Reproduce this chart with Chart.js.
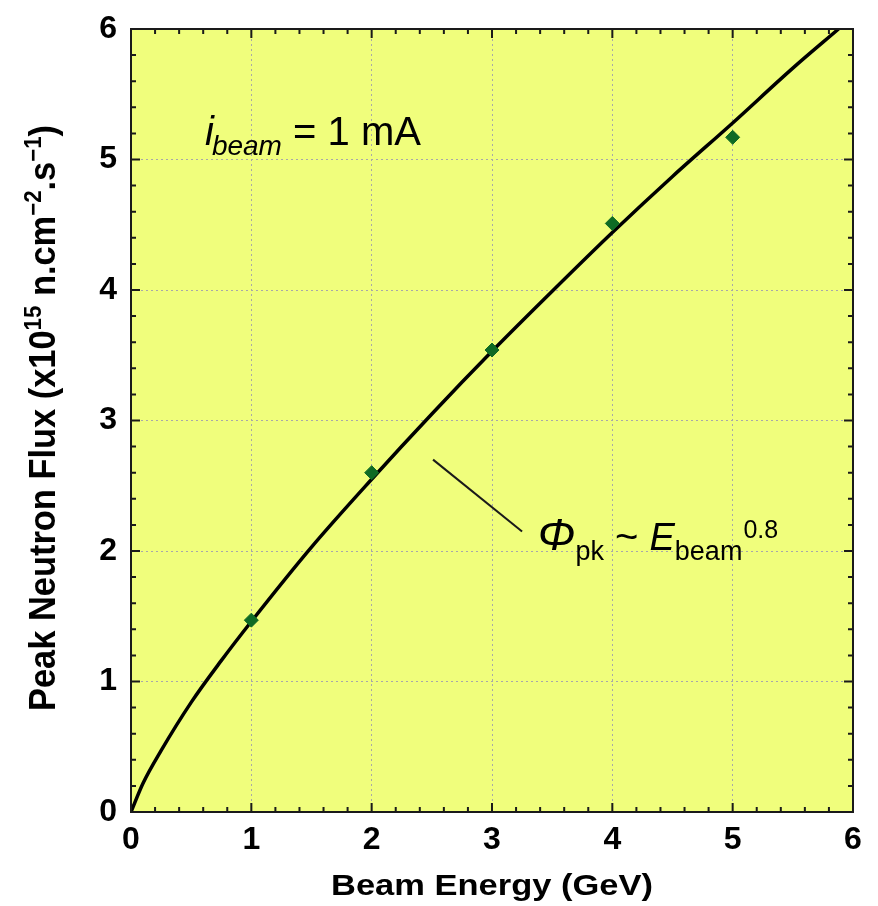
<!DOCTYPE html>
<html>
<head>
<meta charset="utf-8">
<script src="https://cdn.jsdelivr.net/npm/chart.js@4.4.1/dist/chart.umd.min.js"></script>
<style>
  html, body { margin: 0; padding: 0; background: #fff; }
  #wrap { width: 878px; height: 906px; }
</style>
</head>
<body>
<div id="wrap"><canvas id="fluxChart" width="878" height="906"></canvas></div>
<script>
// measured points (GeV, x10^15 n/cm2/s)
const beamEnergy = [1, 2, 3, 4, 5];
const peakFlux = [1.47, 2.60, 3.54, 4.51, 5.17];

// fitted curve
const fitEnergy = [0, 0.1, 0.25, 0.5, 0.75, 1, 1.5, 2, 2.5, 3, 3.5, 4, 4.5, 5, 5.5, 5.88];
const fitFlux = [0, 0.22, 0.47, 0.84, 1.16, 1.46, 2.03, 2.55, 3.05, 3.53, 3.99, 4.44, 4.87, 5.28, 5.70, 6.0];

const xTickValues = [0, 1, 2, 3, 4, 5, 6];
const yTickValues = [0, 1, 2, 3, 4, 5, 6];

const FONT = "'Liberation Sans', Arial, Helvetica, sans-serif";

const pointData = beamEnergy.map((e, i) => ({ x: e, y: peakFlux[i] }));
const fitData = fitEnergy.map((e, i) => ({ x: e, y: fitFlux[i] }));

// measure a list of text runs, return the factor that fits them to targetWidth
function fitRuns(ctx, runs, targetWidth) {
    let total = 0;
    runs.forEach(r => { ctx.font = r.font; r.w = ctx.measureText(r.text).width; total += r.w; });
    return targetWidth / total;
}

const framePlugin = {
    id: 'framePlugin',
    beforeDraw(chart) {
        const { ctx, chartArea: a } = chart;
        ctx.save();
        ctx.fillStyle = '#f0fe7c';
        ctx.fillRect(a.left, a.top, a.right - a.left, a.bottom - a.top);
        ctx.restore();
    },
    afterDraw(chart) {
        const { ctx, chartArea: a } = chart;
        const xs = chart.scales.x, ys = chart.scales.y;
        ctx.save();
        // frame
        ctx.strokeStyle = '#1a1a1a';
        ctx.lineWidth = 2;
        ctx.strokeRect(a.left, a.top, a.right - a.left, a.bottom - a.top);
        // inward ticks, minor every 0.2
        ctx.beginPath();
        for (let i = 0; i <= 30; i++) {
            const v = i / 5;
            const len = (i % 5 === 0) ? 9 : 5;
            const px = xs.getPixelForValue(v);
            const py = ys.getPixelForValue(v);
            ctx.moveTo(px, a.bottom); ctx.lineTo(px, a.bottom - len);
            ctx.moveTo(px, a.top); ctx.lineTo(px, a.top + len);
            ctx.moveTo(a.left, py); ctx.lineTo(a.left + len, py);
            ctx.moveTo(a.right, py); ctx.lineTo(a.right - len, py);
        }
        ctx.stroke();

        ctx.fillStyle = '#000';
        ctx.textBaseline = 'alphabetic';
        ctx.textAlign = 'left';

        // x axis title (lettering in the original is a bit wide)
        const xRuns = [{ text: 'Beam Energy (GeV)', font: 'bold 30px ' + FONT }];
        const kx = fitRuns(ctx, xRuns, 322);
        ctx.save();
        ctx.translate(492 - 322 / 2, 895);
        ctx.scale(kx, 1);
        ctx.font = xRuns[0].font;
        ctx.fillText(xRuns[0].text, 0, 0);
        ctx.restore();

        // y axis title with superscripts
        const big = 'bold 31px ' + FONT, small = 'bold 20px ' + FONT;
        const yRuns = [
            { text: 'Peak Neutron Flux (x10', font: big, dy: 0 },
            { text: '15', font: small, dy: -12 },
            { text: ' n.cm', font: big, dy: 0 },
            { text: '\u22122', font: small, dy: -12 },
            { text: '.s', font: big, dy: 0 },
            { text: '\u22121', font: small, dy: -12 },
            { text: ')', font: big, dy: 0 }
        ];
        const ky = fitRuns(ctx, yRuns, 586);
        ctx.save();
        ctx.translate(55, 418 + 586 / 2);
        ctx.rotate(-Math.PI / 2);
        ctx.scale(ky, 1.2);
        let cx = 0;
        yRuns.forEach(r => {
            ctx.font = r.font;
            ctx.fillText(r.text, cx, r.dy);
            cx += r.w;
        });
        ctx.restore();

        // i_beam = 1 mA
        let ax = xs.getPixelForValue(0.615), ay = ys.getPixelForValue(5.11);
        ctx.font = 'italic 40px ' + FONT;
        ctx.fillText('i', ax, ay);
        let w = ctx.measureText('i').width;
        ctx.font = 'italic 28px ' + FONT;
        ctx.fillText('beam', ax + w - 2, ay + 10);
        w += ctx.measureText('beam').width - 2;
        ctx.font = '40px ' + FONT;
        ctx.fillText(' = 1 mA', ax + w, ay);

        // leader line and fit label
        ctx.lineWidth = 2;
        ctx.beginPath();
        ctx.moveTo(xs.getPixelForValue(2.51), ys.getPixelForValue(2.70));
        ctx.lineTo(xs.getPixelForValue(3.25), ys.getPixelForValue(2.15));
        ctx.stroke();

        ax = xs.getPixelForValue(3.38); ay = ys.getPixelForValue(2.01);
        ctx.font = 'italic 45px ' + FONT;
        ctx.fillText('\u03A6', ax, ay);
        w = ctx.measureText('\u03A6').width;
        ctx.font = '27px ' + FONT;
        ctx.fillText('pk', ax + w, ay + 10);
        w += ctx.measureText('pk').width;
        ctx.font = '40px ' + FONT;
        ctx.fillText(' ~ ', ax + w, ay);
        w += ctx.measureText(' ~ ').width;
        ctx.font = 'italic 38px ' + FONT;
        ctx.fillText('E', ax + w, ay);
        w += ctx.measureText('E').width;
        ctx.font = '27px ' + FONT;
        ctx.fillText('beam', ax + w, ay + 10);
        w += ctx.measureText('beam').width;
        ctx.font = '25px ' + FONT;
        ctx.fillText('0.8', ax + w + 1, ay - 12);
        ctx.restore();
    }
};

const ctx = document.getElementById('fluxChart').getContext('2d');
const fluxChart = new Chart(ctx, {
    type: 'scatter',
    data: {
        datasets: [
            {
                label: 'Measured',
                data: pointData,
                pointStyle: 'rectRot',
                pointRadius: 7,
                backgroundColor: '#0e6b24',
                borderColor: '#0e6b24',
                borderWidth: 1
            },
            {
                label: 'Fit',
                data: fitData,
                showLine: true,
                pointRadius: 0,
                borderColor: '#000',
                borderWidth: 3.5,
                cubicInterpolationMode: 'monotone'
            }
        ]
    },
    options: {
        responsive: false,
        animation: false,
        layout: { padding: { top: 29, right: 25, left: 0, bottom: 0 } },
        plugins: {
            legend: { display: false },
            tooltip: { enabled: false }
        },
        scales: {
            x: {
                type: 'linear',
                min: 0,
                max: 6,
                afterFit: function(scale) {
                    scale.height = 94;
                    scale.paddingLeft = 0;
                    scale.paddingRight = 0;
                },
                afterBuildTicks: function(scale) { scale.ticks = xTickValues.map(v => ({ value: v })); },
                ticks: {
                    color: '#000',
                    padding: 9,
                    font: { family: FONT, size: 32, weight: 'bold' }
                },
                grid: {
                    drawTicks: false,
                    lineWidth: 1,
                    color: c => (c.tick && (c.tick.value === 0 || c.tick.value === 6)) ? 'rgba(0,0,0,0)' : '#a8a8a8'
                },
                border: { display: false, dash: [2, 3] }
            },
            y: {
                type: 'linear',
                min: 0,
                max: 6,
                afterFit: function(scale) {
                    scale.width = 131;
                    scale.paddingTop = 0;
                    scale.paddingBottom = 0;
                },
                afterBuildTicks: function(scale) { scale.ticks = yTickValues.map(v => ({ value: v })); },
                ticks: {
                    color: '#000',
                    padding: 14,
                    font: { family: FONT, size: 32, weight: 'bold' }
                },
                grid: {
                    drawTicks: false,
                    lineWidth: 1,
                    color: c => (c.tick && (c.tick.value === 0 || c.tick.value === 6)) ? 'rgba(0,0,0,0)' : '#a8a8a8'
                },
                border: { display: false, dash: [2, 3] }
            }
        }
    },
    plugins: [framePlugin]
});
</script>
</body>
</html>
